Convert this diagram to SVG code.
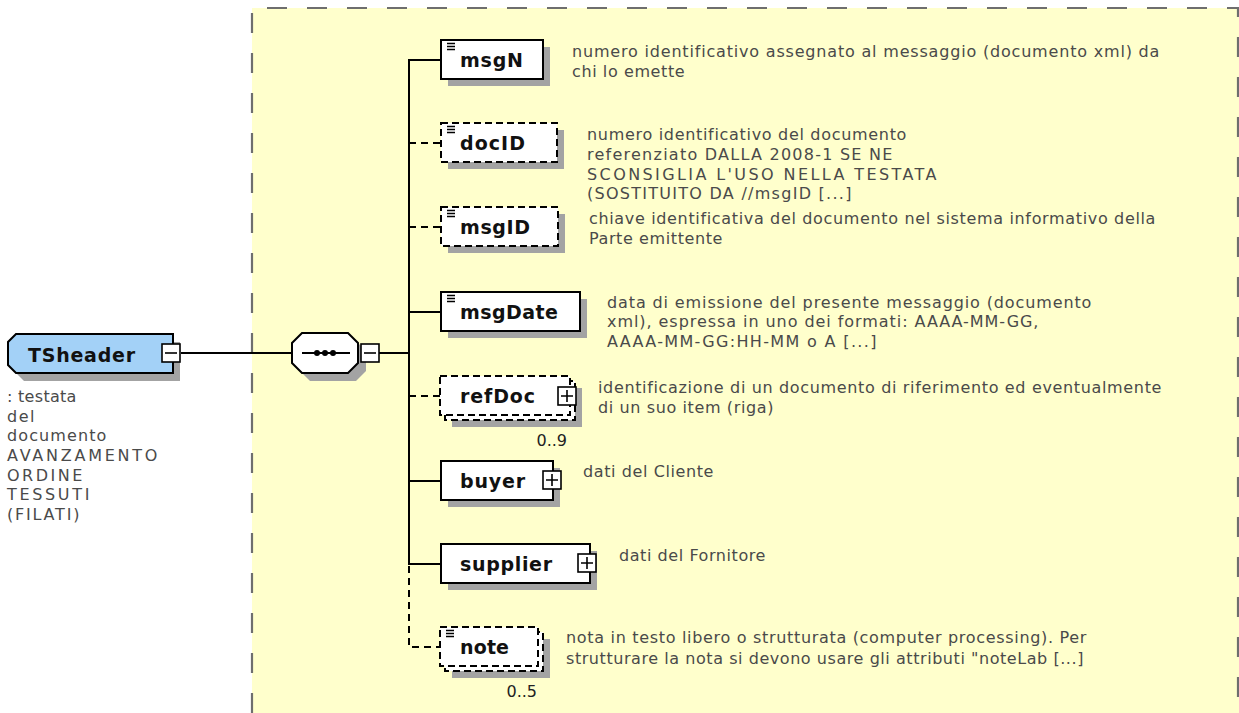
<svg xmlns="http://www.w3.org/2000/svg" width="1239" height="713" viewBox="0 0 1239 713">
<style>
.bg{fill:#ffffcc;stroke:none}
.bgb{fill:none;stroke:#6e6e6e;stroke-width:2.2;stroke-dasharray:20 20}
.sh{fill:#a3a3a3}
.box{fill:#fff;stroke:#000;stroke-width:2}
.opt{fill:#fff;stroke:#000;stroke-width:2;stroke-dasharray:7 4}
.ln{fill:none;stroke:#000;stroke-width:2}
.dl{fill:none;stroke:#000;stroke-width:2;stroke-dasharray:7 5}
.lbl{font-family:"DejaVu Sans",Verdana,sans-serif;font-weight:bold;font-size:19px;fill:#111}
.ds{font-family:"DejaVu Sans",Verdana,sans-serif;font-size:16px;fill:#4a4a4a;letter-spacing:0.6px}
.mul{font-family:"DejaVu Sans",Verdana,sans-serif;font-size:16px;fill:#222}
.ic{stroke:#000;stroke-width:1.3}
.btn{fill:#fff;stroke:#000;stroke-width:1.6}
.sym{stroke:#000;stroke-width:1.6}
</style>
<defs>
<g id="icon"><path class="ic" d="M0,0.5H8M0,3.5H8M0,6.5H8"/></g>
<g id="plus"><rect class="btn" x="0" y="0" width="18" height="18"/><path class="sym" d="M3,9H15M9,3V15"/></g>
<g id="minus"><rect class="btn" x="0" y="0" width="18" height="18"/><path class="sym" d="M3,9H15"/></g>
</defs>

<rect class="bg" x="252" y="8" width="987" height="710"/>
<path class="bgb" d="M252,713V8H1238V713"/>

<g id="connectors">
<path class="ln" d="M181,353H292"/>
<path class="ln" d="M379,353H409"/>
<path class="ln" d="M441,60H409V564H441"/>
<path class="ln" d="M409,312H441"/>
<path class="ln" d="M409,481H441"/>
<path class="dl" d="M409,143H441"/>
<path class="dl" d="M409,227H441"/>
<path class="dl" d="M409,396H440"/>
<path class="dl" d="M409,566V647H440"/>
</g>

<g id="TSheader">
<polygon class="sh" points="24,342 180,342 180,381 24,381 16,373 16,350"/>
<polygon points="16,334 173,334 173,373 16,373 8,365 8,342" fill="#a3d1f7" stroke="#000" stroke-width="2"/>
<use href="#minus" x="162" y="344"/>
<text class="lbl" x="28" y="362" textLength="107" lengthAdjust="spacing">TSheader</text>
<text class="ds" x="7" y="402" textLength="70" lengthAdjust="spacing">: testata</text>
<text class="ds" x="7" y="422" textLength="28" lengthAdjust="spacing">del</text>
<text class="ds" x="7" y="441" textLength="100" lengthAdjust="spacing">documento</text>
<text class="ds" x="7" y="461" textLength="151" lengthAdjust="spacing">AVANZAMENTO</text>
<text class="ds" x="7" y="481" textLength="76" lengthAdjust="spacing">ORDINE</text>
<text class="ds" x="7" y="500" textLength="83" lengthAdjust="spacing">TESSUTI</text>
<text class="ds" x="7" y="520" textLength="73" lengthAdjust="spacing">(FILATI)</text>
</g>

<g id="sequence">
<polygon class="sh" points="310,341 356,341 366,351 366,371 356,381 310,381 300,371 300,351"/>
<polygon points="302,333 348,333 358,343 358,363 348,373 302,373 292,363 292,343" fill="#fff" stroke="#000" stroke-width="2"/>
<path class="ln" d="M302,353H350"/>
<circle cx="317" cy="353" r="3"/>
<circle cx="325" cy="353" r="3"/>
<circle cx="333" cy="353" r="3"/>
<use href="#minus" x="361" y="344"/>
</g>

<g id="msgN">
<rect class="sh" x="448" y="47" width="102" height="39"/>
<rect class="box" x="441" y="40" width="102" height="39"/>
<use href="#icon" x="447" y="43"/>
<text class="lbl" x="460" y="67" textLength="63" lengthAdjust="spacing">msgN</text>
<text class="ds" x="572" y="57" textLength="588" lengthAdjust="spacing">numero identificativo assegnato al messaggio (documento xml) da</text>
<text class="ds" x="572" y="77">chi lo emette</text>
</g>

<g id="docID">
<rect class="sh" x="448" y="130" width="116" height="39"/>
<rect class="opt" x="441" y="123" width="116" height="39"/>
<use href="#icon" x="447" y="126"/>
<text class="lbl" x="460" y="150" textLength="65" lengthAdjust="spacing">docID</text>
<text class="ds" x="587" y="140" textLength="320" lengthAdjust="spacing">numero identificativo del documento</text>
<text class="ds" x="587" y="160" textLength="306" lengthAdjust="spacing">referenziato DALLA 2008-1 SE NE</text>
<text class="ds" x="587" y="180" textLength="350" lengthAdjust="spacing">SCONSIGLIA L'USO NELLA TESTATA</text>
<text class="ds" x="587" y="199" textLength="265" lengthAdjust="spacing">(SOSTITUITO DA //msgID [...]</text>
</g>

<g id="msgID">
<rect class="sh" x="448" y="214" width="117" height="39"/>
<rect class="opt" x="441" y="207" width="117" height="39"/>
<use href="#icon" x="447" y="210"/>
<text class="lbl" x="460" y="234" textLength="70" lengthAdjust="spacing">msgID</text>
<text class="ds" x="589" y="224" textLength="567" lengthAdjust="spacing">chiave identificativa del documento nel sistema informativo della</text>
<text class="ds" x="589" y="244">Parte emittente</text>
</g>

<g id="msgDate">
<rect class="sh" x="448" y="299" width="139" height="39"/>
<rect class="box" x="441" y="292" width="139" height="39"/>
<use href="#icon" x="447" y="295"/>
<text class="lbl" x="460" y="319" textLength="98" lengthAdjust="spacing">msgDate</text>
<text class="ds" x="607" y="308" textLength="485" lengthAdjust="spacing">data di emissione del presente messaggio (documento</text>
<text class="ds" x="607" y="327" textLength="432" lengthAdjust="spacing">xml), espressa in uno dei formati: AAAA-MM-GG,</text>
<text class="ds" x="607" y="347" textLength="270" lengthAdjust="spacing">AAAA-MM-GG:HH-MM o A [...]</text>
</g>

<g id="refDoc">
<rect class="sh" x="452" y="388" width="130" height="39"/>
<rect class="opt" x="445" y="381" width="130" height="39"/>
<rect class="opt" x="440" y="376" width="130" height="39"/>
<use href="#plus" x="558" y="387"/>
<text class="lbl" x="460" y="403" textLength="75" lengthAdjust="spacing">refDoc</text>
<text class="mul" x="567" y="446" text-anchor="end">0..9</text>
<text class="ds" x="598" y="393" textLength="564" lengthAdjust="spacing">identificazione di un documento di riferimento ed eventualmente</text>
<text class="ds" x="598" y="413" textLength="176" lengthAdjust="spacing">di un suo item (riga)</text>
</g>

<g id="buyer">
<rect class="sh" x="448" y="468" width="112" height="39"/>
<rect class="box" x="441" y="461" width="112" height="39"/>
<use href="#plus" x="543" y="471"/>
<text class="lbl" x="460" y="488" textLength="65" lengthAdjust="spacing">buyer</text>
<text class="ds" x="583" y="477" textLength="131" lengthAdjust="spacing">dati del Cliente</text>
</g>

<g id="supplier">
<rect class="sh" x="448" y="551" width="149" height="39"/>
<rect class="box" x="441" y="544" width="149" height="39"/>
<use href="#plus" x="578" y="554"/>
<text class="lbl" x="460" y="571" textLength="92" lengthAdjust="spacing">supplier</text>
<text class="ds" x="619" y="561" textLength="147" lengthAdjust="spacing">dati del Fornitore</text>
</g>

<g id="note">
<rect class="sh" x="452" y="639" width="98" height="39"/>
<rect class="opt" x="445" y="632" width="98" height="39"/>
<rect class="opt" x="440" y="627" width="98" height="39"/>
<use href="#icon" x="446" y="630"/>
<text class="lbl" x="460" y="654" textLength="49" lengthAdjust="spacing">note</text>
<text class="mul" x="537" y="697" text-anchor="end">0..5</text>
<text class="ds" x="566" y="643" textLength="521" lengthAdjust="spacing">nota in testo libero o strutturata (computer processing). Per</text>
<text class="ds" x="566" y="664" textLength="518" lengthAdjust="spacing">strutturare la nota si devono usare gli attributi "noteLab [...]</text>
</g>
</svg>
